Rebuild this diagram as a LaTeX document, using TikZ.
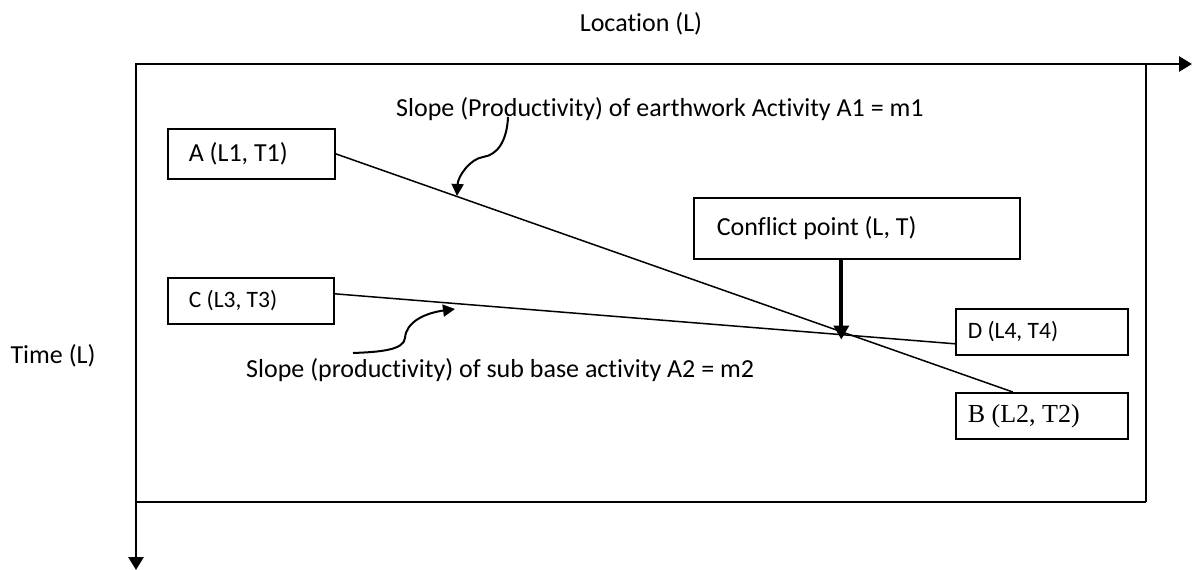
\documentclass[tikz,border=0pt]{standalone}
\usepackage{fontspec}
\setmainfont{Carlito}[Ligatures=NoCommon]
\newfontfamily\tnr{Liberation Serif}
\usetikzlibrary{arrows.meta}
\begin{document}
\begin{tikzpicture}[x=1pt,y=-1pt,
  txt/.style={font=\fontsize{26}{30}\selectfont, inner sep=0pt},
  box/.style={draw, line width=1.6pt, anchor=north west, inner ysep=0pt, align=flush left},
  axis/.style={line width=2.8pt},
  conn/.style={line width=1.5pt},
  curvy/.style={line width=2pt, -{Triangle[length=12pt,width=12pt]}}]
\useasboundingbox (0,0) rectangle (1192,570);
% axes and frame
\coordinate (O) at (136,64);
\coordinate (xend) at (1192,64);
\coordinate (yend) at (136,570);
\coordinate (br) at (1146,502);
\draw[axis, {Triangle[length=13pt,width=15pt]}-{Triangle[length=13pt,width=15pt]}, line join=miter] (xend) -- (O) -- (yend);
\draw[axis] (O |- br) -- (br);
\draw[line width=1.3pt] (O -| br) -- (br);
% axis labels
\node[txt, anchor=base] (loc) at (641,31) {Location (L)};
\node[txt, anchor=base] (time) at (53,363) {Time (L)};
% boxes
\node[box, minimum height=50pt, inner xsep=21pt, text width=125pt, font=\fontsize{26}{30}\selectfont] (A) at (167,128) {A (L1, T1)};
\node[box, minimum height=46pt, inner xsep=21pt, text width=124pt, font=\fontsize{23.5}{28}\selectfont] (C) at (167,277) {C (L3, T3)};
\node[box, minimum height=61pt, inner xsep=23pt, text width=280pt, font=\fontsize{26}{30}\selectfont] (conf) at (693,197) {Conflict point (L, T)};
\node[box, minimum height=46pt, inner xsep=12pt, text width=148pt, font=\fontsize{23.5}{28}\selectfont] (D) at (955,308) {D (L4, T4)};
\node[box, minimum height=46pt, inner xsep=12pt, text width=148pt, font=\fontsize{26}{30}\selectfont\tnr] (B) at (955,392) {B (L2, T2)};
% activity lines
\coordinate (a1) at (A.east);
\coordinate (b1) at ([xshift=-29pt]B.north);
\coordinate (c1) at ([yshift=7pt]C.east);
\coordinate (d1) at ([yshift=-12pt]D.west);
\draw[conn] (a1) -- (b1);
\draw[conn] (c1) -- (d1);
\coordinate (X) at (intersection of a1--b1 and c1--d1);
\coordinate (tip) at ([xshift=-11pt,yshift=-4pt]X);
\draw[line width=4pt, -{Triangle[length=14pt,width=15pt]}] (conf.south -| tip) -- (tip);
% slope labels
\node[txt, anchor=base west] (s1) at (396,116) {Slope (Productivity) of earthwork Activity A1 = m1};
\node[txt, anchor=base west] (s2) at (246,377) {Slope (productivity) of sub base activity A2 = m2};
% curved pointers
\coordinate (p1) at (508,117);
\coordinate (q1) at (457,196);
\draw[curvy] (p1) .. controls (507,140) and (498,155) .. (483,157) .. controls (470,159) and (458,176) .. (q1);
\coordinate (p2) at (353,353);
\coordinate (q2) at (455,309);
\draw[curvy] (p2) .. controls (380,352) and (404,350) .. (405,338) .. controls (406,322) and (425,313) .. (q2);
\end{tikzpicture}
\end{document}
